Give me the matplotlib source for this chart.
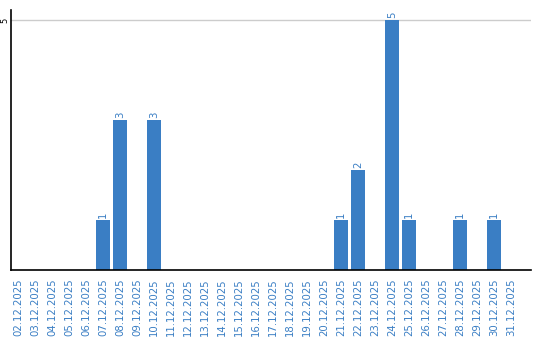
import matplotlib
matplotlib.use('Agg')
import matplotlib.pyplot as plt

dates = ['%02d.12.2025' % d for d in range(2, 32)]
counts = [0, 0, 0, 0, 0, 1, 3, 0, 3, 0,
          0, 0, 0, 0, 0, 0, 0, 0, 0, 1,
          2, 0, 5, 1, 0, 0, 1, 0, 1, 0]
y_ticks = [5]

blue = '#3a7ec4'

fig = plt.figure(figsize=(5.4, 3.4), dpi=100)
ax = fig.add_axes([11 / 540, 70 / 340, 520 / 540, 260 / 340])

x = list(range(len(dates)))
ax.bar(x, counts, width=0.82, color=blue, zorder=2)

# value labels above bars
for xi, v in zip(x, counts):
    if v > 0:
        ax.text(xi, v + 0.04, str(v), rotation=90, ha='center', va='bottom',
                fontsize=7.3, color=blue)

ax.set_xlim(-0.41, 30.18)
ax.set_ylim(0, 5.2)
ax.set_xticks(x)
ax.set_xticklabels(dates, rotation=90, fontsize=7.3, color=blue)
ax.set_yticks(y_ticks)
ax.set_yticklabels([str(t) for t in y_ticks], rotation=90, fontsize=6, va='center')
ax.tick_params(axis='both', length=0)
ax.tick_params(axis='x', pad=6)
ax.tick_params(axis='y', pad=1.5)
ax.grid(axis='y', color='#cccccc', linewidth=1, zorder=0)

for side in ['top', 'right']:
    ax.spines[side].set_visible(False)
for side in ['left', 'bottom']:
    ax.spines[side].set_color('black')
    ax.spines[side].set_linewidth(1.2)

fig.savefig('out.png', dpi=100)
